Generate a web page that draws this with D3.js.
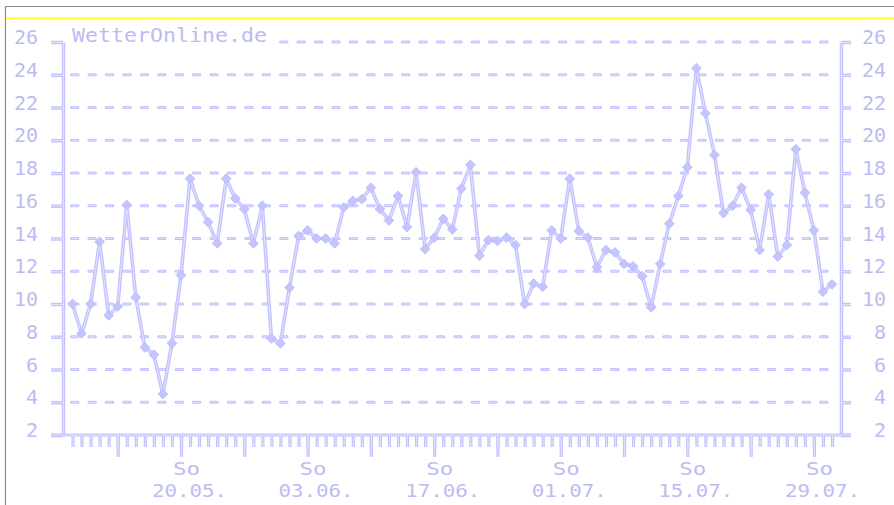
<!DOCTYPE html>
<html>
<head>
<meta charset="utf-8">
<script src="https://cdn.jsdelivr.net/npm/d3@7"></script>
<style>
  html, body { margin: 0; padding: 0; background: #ffffff; }
  svg { display: block; }
  text { font-family: "DejaVu Sans Mono", "Liberation Mono", monospace; }
</style>
</head>
<body>
<svg id="chart" width="894" height="505"></svg>
<script>
// ---------- data ----------
const startDate = new Date(2007, 4, 8);   // 08.05.
const endDate   = new Date(2007, 6, 31);  // 31.07.
const values = [
  10.0, 8.2, 10.0, 13.8, 9.3, 9.85, 16.05, 10.4, 7.35, 6.9,
  4.5, 7.6, 11.75, 17.65, 16.0, 15.0, 13.7, 17.65, 16.45, 15.8,
  13.7, 16.0, 7.9, 7.6, 11.0, 14.15, 14.5, 14.0, 14.0, 13.7,
  15.9, 16.3, 16.4, 17.1, 15.8, 15.1, 16.6, 14.7, 18.05, 13.35,
  14.05, 15.2, 14.55, 17.05, 18.5, 12.95, 13.9, 13.85, 14.05, 13.6,
  10.0, 11.25, 11.05, 14.5, 14.0, 17.65, 14.45, 14.05, 12.25, 13.3,
  13.15, 12.45, 12.3, 11.7, 9.8, 12.45, 14.9, 16.6, 18.35, 24.4,
  21.65, 19.1, 15.55, 16.0, 17.1, 15.75, 13.3, 16.7, 12.9, 13.6,
  19.45, 16.8, 14.5, 10.75, 11.2
];
const yTickValues = [2, 4, 6, 8, 10, 12, 14, 16, 18, 20, 22, 24, 26];
const gridValues = [4, 6, 8, 10, 12, 14, 16, 18, 20, 22, 24, 26];
const labelDates = ["20.05.", "03.06.", "17.06.", "01.07.", "15.07.", "29.07."];
const dayLabel = "So";
const brandText = "WetterOnline.de";

// ---------- setup ----------
const dates = d3.timeDay.range(startDate, d3.timeDay.offset(endDate, 1));
const data = dates.map((d, i) => ({ date: d, v: values[i] }));
const sundays = dates.filter(d => d.getDay() === 0);
const fmt = d3.timeFormat("%d.%m.");

const OUTER = "#c2c2ff";
const INNER = "#e2e2ff";
const TEXT_FILL = "#bcbcf2";

const svg = d3.select("#chart");
const x = d3.scaleTime().domain([startDate, endDate]).range([72.5, 832]);
const y = d3.scaleLinear().domain([2, 26]).range([435, 42]);

const leftX = 63, rightX = 841;

// frame
svg.append("line").attr("x1", 5.5).attr("x2", 894).attr("y1", 6.5).attr("y2", 6.5)
  .attr("stroke", "#8a8a8a").attr("stroke-width", 1.2);
svg.append("line").attr("x1", 5.5).attr("x2", 5.5).attr("y1", 6).attr("y2", 505)
  .attr("stroke", "#8a8a8a").attr("stroke-width", 1.2);
svg.append("line").attr("x1", 6).attr("x2", 894).attr("y1", 18.3).attr("y2", 18.3)
  .attr("stroke", "#ffff20").attr("stroke-width", 1.6);

// gridlines (dashed, outlined look)
const grid = svg.append("g");
gridValues.forEach(v => {
  grid.append("line").attr("x1", 71.5).attr("x2", 836).attr("y1", y(v)).attr("y2", y(v))
    .attr("stroke", OUTER).attr("stroke-width", 3).attr("stroke-linecap", "round")
    .attr("stroke-dasharray", "6.5 10.92");
  grid.append("line").attr("x1", 71.5).attr("x2", 836).attr("y1", y(v)).attr("y2", y(v))
    .attr("stroke", INNER).attr("stroke-width", 0.9)
    .attr("stroke-dasharray", "6.5 10.92");
});

// brand text with white mask over the top gridline
svg.append("rect").attr("x", 68).attr("y", 22).attr("width", 206).attr("height", 23).attr("fill", "#fff");
svg.append("text").attr("x", 72).attr("y", 41.5).attr("font-size", 20)
  .attr("textLength", 195).attr("lengthAdjust", "spacingAndGlyphs")
  .attr("fill", TEXT_FILL)
  .text(brandText);

// helper to style an axis group
function styleAxis(g, w, col, keepText) {
  g.selectAll(".domain").attr("stroke", col).attr("stroke-width", w).attr("fill", "none");
  g.selectAll(".tick line").attr("stroke", col).attr("stroke-width", w);
  if (!keepText) g.selectAll("text").remove();
}

// left axis
[[3.5, OUTER, true], [1.1, INNER, false]].forEach(([w, c, t]) => {
  const g = svg.append("g").attr("transform", `translate(${leftX},0)`)
    .call(d3.axisLeft(y).tickValues(yTickValues).tickSize(12).tickSizeOuter(0).tickPadding(13));
  styleAxis(g, w, c, t);
  if (t) {
    g.selectAll("text").attr("font-size", 20).attr("dy", null).attr("y", 1.5)
      .attr("font-family", '"DejaVu Sans Mono", monospace')
      .attr("fill", TEXT_FILL);
  }
});

// right axis
[[3.5, OUTER, true], [1.1, INNER, false]].forEach(([w, c, t]) => {
  const g = svg.append("g").attr("transform", `translate(${rightX},0)`)
    .call(d3.axisRight(y).tickValues(yTickValues).tickSize(10).tickSizeOuter(0));
  styleAxis(g, w, c, t);
  if (t) {
    g.selectAll("text").attr("font-size", 20).attr("dy", null).attr("y", 1.5)
      .attr("x", 45).attr("text-anchor", "end")
      .attr("font-family", '"DejaVu Sans Mono", monospace')
      .attr("fill", TEXT_FILL);
  }
});

// bottom axis: daily ticks + Sunday long ticks
[[3.2, OUTER], [1.0, INNER]].forEach(([w, c]) => {
  const g1 = svg.append("g").attr("transform", `translate(0,${y(2)})`)
    .call(d3.axisBottom(x).tickValues(dates).tickSize(12).tickSizeOuter(0));
  g1.selectAll(".domain").remove();
  styleAxis(g1, w, c, false);
  const g2 = svg.append("g").attr("transform", `translate(0,${y(2)})`)
    .call(d3.axisBottom(x).tickValues(sundays).tickSize(22).tickSizeOuter(0));
  g2.selectAll(".domain").remove();
  styleAxis(g2, w, c, false);
  svg.append("line").attr("x1", 51).attr("x2", 851).attr("y1", y(2)).attr("y2", y(2))
    .attr("stroke", c).attr("stroke-width", w);
});

// x labels
const labelled = sundays.filter(d => labelDates.includes(fmt(d)));
const xl = svg.append("g");
labelled.forEach(d => {
  xl.append("text").attr("x", x(d) - 8).attr("y", 474.5).attr("font-size", 17.5)
    .attr("textLength", 27).attr("lengthAdjust", "spacingAndGlyphs")
    .attr("fill", TEXT_FILL)
    .text(dayLabel);
  xl.append("text").attr("x", x(d) - 29).attr("y", 496.5).attr("font-size", 17.5)
    .attr("textLength", 75).attr("lengthAdjust", "spacingAndGlyphs")
    .attr("fill", TEXT_FILL)
    .text(fmt(d));
});

// data line (outlined)
const line = d3.line().x(d => x(d.date)).y(d => y(d.v));
svg.append("path").datum(data).attr("d", line).attr("fill", "none")
  .attr("stroke", OUTER).attr("stroke-width", 3.6).attr("stroke-linejoin", "round");
svg.append("path").datum(data).attr("d", line).attr("fill", "none")
  .attr("stroke", INNER).attr("stroke-width", 1.1).attr("stroke-linejoin", "round");

// diamonds
const sym = d3.symbol().type(d3.symbolSquare).size(48);
svg.append("g").selectAll("path").data(data).join("path")
  .attr("d", sym)
  .attr("transform", d => `translate(${x(d.date)},${y(d.v)}) rotate(45)`)
  .attr("fill", "#c4c4ff").attr("stroke", "#b6b6fa").attr("stroke-width", 0.7);
</script>
</body>
</html>
